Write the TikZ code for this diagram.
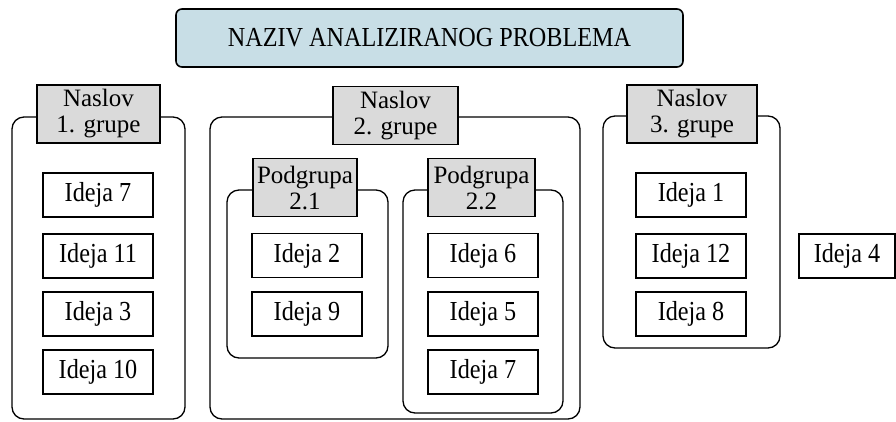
\documentclass[tikz,border=0pt]{standalone}
\usepackage{fontspec}
\setmainfont{Liberation Serif}
\newfontfamily\condfont[FakeStretch=0.88]{Liberation Serif}
\definecolor{titlefill}{RGB}{200,222,230}
\definecolor{headfill}{RGB}{218,218,218}
\begin{document}
\begin{tikzpicture}[x=1pt,y=-1pt,
  every node/.style={inner sep=0pt, align=center},
  bigtext/.style={font=\condfont\fontsize{27.5}{29}\selectfont},
  titlebox/.style={bigtext, draw, line width=1.6pt, rounded corners=6pt, fill=titlefill, minimum width=507pt, minimum height=58pt},
  grp/.style={draw, line width=1.3pt, rounded corners=12pt},
  head/.style={font=\fontsize{25}{26}\selectfont, draw, line width=1.3pt, fill=headfill, minimum height=58pt},
  idea/.style={bigtext, draw, line width=1.3pt, fill=white, minimum width=110pt, minimum height=44pt}]
\useasboundingbox (0,0) rectangle (896,421);
% title
\node[titlebox] (title) at (429.5,38) {NAZIV ANALIZIRANOG PROBLEMA};
% group 1
\node[grp, minimum width=173pt, minimum height=302pt] (g1) at (98.5,268) {};
\node[head, minimum width=123pt] (h1) at (98.5,114) {Naslov\\1. grupe};
\node[idea] (g1a) at (98,195) {Ideja 7};
\node[idea] (g1b) at (98,256) {Ideja 11};
\node[idea] (g1c) at (98,314) {Ideja 3};
\node[idea] (g1d) at (98,372) {Ideja 10};
% group 2
\node[grp, minimum width=370pt, minimum height=302pt] (g2) at (395,268) {};
\node[head, minimum width=125pt] (h2) at (395.5,115.5) {Naslov\\2. grupe};
\node[grp, minimum width=161pt, minimum height=168pt] (p21) at (307.5,274) {};
\node[head, minimum width=104pt] (hp21) at (305,187.5) {Podgrupa\\2.1};
\node[idea] (p21a) at (307,255.5) {Ideja 2};
\node[idea] (p21b) at (307,314) {Ideja 9};
\node[grp, minimum width=160pt, minimum height=223pt] (p22) at (483,301.5) {};
\node[head, minimum width=107pt] (hp22) at (481.5,187.5) {Podgrupa\\2.2};
\node[idea] (p22a) at (483,255.5) {Ideja 6};
\node[idea] (p22b) at (483,314) {Ideja 5};
\node[idea] (p22c) at (483,372) {Ideja 7};
% group 3
\node[grp, minimum width=177pt, minimum height=232pt] (g3) at (691.5,232) {};
\node[head, minimum width=130pt] (h3) at (692,114) {Naslov\\3. grupe};
\node[idea] (g3a) at (691,195) {Ideja 1};
\node[idea] (g3b) at (691,256) {Ideja 12};
\node[idea] (g3c) at (691,314) {Ideja 8};
% loose idea
\node[idea, minimum width=96pt] (i4) at (847,256) {Ideja 4};
\end{tikzpicture}
\end{document}
